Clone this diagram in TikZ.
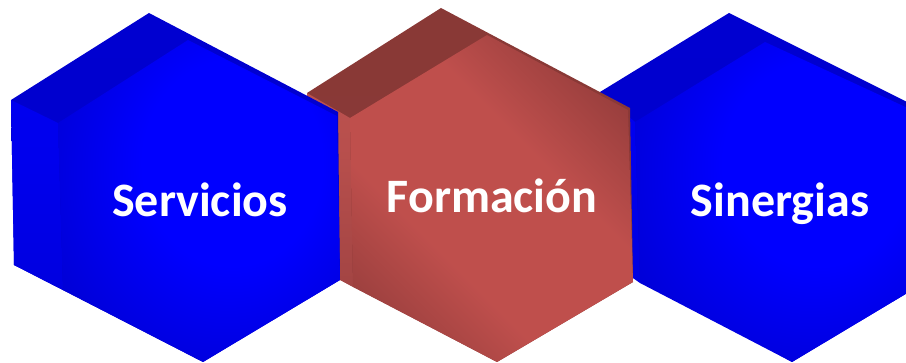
\documentclass[tikz,border=0pt]{standalone}
\usepackage{fontspec}
\setmainfont{Carlito}
\pgfdeclareradialshading{bluefront}{\pgfpoint{8bp}{8bp}}{rgb(0bp)=(0,0,1); rgb(16bp)=(0,0,1); rgb(44bp)=(0,0,0.74); rgb(62bp)=(0,0,0.66)}
\pgfdeclareverticalshading{bluetop}{100bp}{rgb(0bp)=(0,0,0.80); rgb(100bp)=(0,0,0.82)}
\pgfdeclareverticalshading{blueleft}{100bp}{rgb(0bp)=(0,0,0.84); rgb(60bp)=(0,0,0.93); rgb(100bp)=(0,0,0.95)}
\pgfdeclareverticalshading{redband}{100bp}{rgb(0bp)=(0.40,0.16,0.16); rgb(38bp)=(0.75,0.31,0.30); rgb(60bp)=(0.75,0.31,0.30); rgb(100bp)=(0.38,0.15,0.15)}
\pgfdeclareverticalshading{redtop}{100bp}{rgb(0bp)=(0.55,0.23,0.22); rgb(100bp)=(0.53,0.22,0.21)}
\pgfdeclareverticalshading{redleft}{100bp}{rgb(0bp)=(0.58,0.24,0.24); rgb(60bp)=(0.72,0.31,0.30); rgb(100bp)=(0.75,0.33,0.32)}
\tikzset{
  hexlabel/.style={text=white, font=\bfseries\fontsize{48}{48}\selectfont, anchor=base, inner sep=0pt},
  bfront/.style={shading=bluefront},
  btop/.style={shading=bluetop},
  bleft/.style={shading=blueleft},
  rfront/.style={shading=redband, shading angle=-45},
  rtop/.style={shading=redtop},
  rleft/.style={shading=redleft}
}
\begin{document}
\begin{tikzpicture}[x=1pt,y=-1pt]
\useasboundingbox (0,0) rectangle (906,363);
\clip (0,0) rectangle (906,363);
% right blue hexagon (Sinergias)
\coordinate (S1) at (729,13); \coordinate (S2) at (927,112); \coordinate (S3) at (929,280);
\coordinate (S4) at (792,362); \coordinate (S5) at (603,257); \coordinate (S6) at (600,92);
\coordinate (K1) at (765,42); \coordinate (K2) at (925,116); \coordinate (K6) at (635,122); \coordinate (K5) at (640,283);
\shade[btop] (S1) -- (S2) -- (S3) -- (S4) -- (S5) -- (S6) -- cycle;
\shade[bleft] (S6) -- (K6) -- (K5) -- (S5) -- cycle;
\shade[bfront] (K1) -- (K2) -- (S3) -- (S4) -- (K5) -- (K6) -- cycle;
% red hexagon (Formacion)
\coordinate (R1) at (441,8); \coordinate (R2) at (630,108); \coordinate (R3) at (633,282);
\coordinate (R4) at (497,362); \coordinate (R5) at (312,265); \coordinate (R6) at (307,93);
\coordinate (J1) at (487,35); \coordinate (J2) at (628,110); \coordinate (J6) at (350,118); \coordinate (J5) at (353,287);
\shade[rtop] (R1) -- (R2) -- (R3) -- (R4) -- (R5) -- (R6) -- cycle;
\shade[rleft] (R6) -- (J6) -- (J5) -- (R5) -- cycle;
\shade[rfront] (J1) -- (J2) -- (R3) -- (R4) -- (J5) -- (J6) -- cycle;
% left blue hexagon (Servicios)
\coordinate (A1) at (149,13); \coordinate (A2) at (338,112); \coordinate (A3) at (340,280);
\coordinate (A4) at (203,362); \coordinate (A5) at (14,265); \coordinate (A6) at (11,100);
\coordinate (I1) at (188,40); \coordinate (I2) at (337,116); \coordinate (I6) at (58,123); \coordinate (I5) at (63,290);
\shade[btop] (A1) -- (A2) -- (A3) -- (A4) -- (A5) -- (A6) -- cycle;
\shade[bleft] (A6) -- (I6) -- (I5) -- (A5) -- cycle;
\shade[bfront] (I1) -- (I2) -- (A3) -- (A4) -- (I5) -- (I6) -- cycle;
% labels
\node[hexlabel] (servicios) at (200,217) {Servicios};
\node[hexlabel] (formacion) at (492,213) {Formación};
\node[hexlabel] (sinergias) at (780,217) {Sinergias};
\end{tikzpicture}
\end{document}
